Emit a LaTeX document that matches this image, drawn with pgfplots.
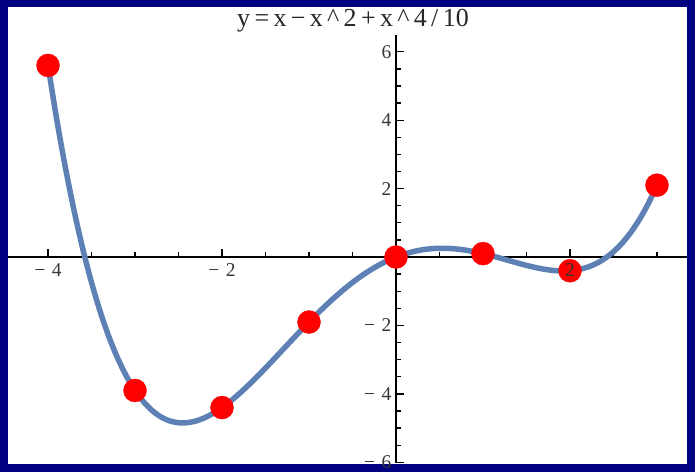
\documentclass[border=0pt]{standalone}
\usepackage{fontspec}
\setmainfont{Liberation Serif}
\usepackage{pgfplots}
\pgfplotsset{compat=1.18}
\definecolor{frameblue}{RGB}{0,0,128}
\definecolor{curveblue}{RGB}{94,129,181}
\definecolor{labelgray}{RGB}{55,55,55}
\begin{document}
\begin{tikzpicture}[x=1pt,y=1pt]
% frame
\fill[frameblue] (0,0) rectangle (695,472);
\fill[white] (8,8) rectangle (687,465);
\begin{axis}[
  at={(8pt,9pt)}, anchor=south west,
  scale only axis, width=679pt, height=428pt,
  xmin=-4.46, xmax=3.345, ymin=-6.02, ymax=6.49,
  axis lines=middle,
  axis line style={line width=1.3pt, black, -},
  xtick={-4,-2,2}, xticklabels={−\,\,4,−\,\,2,{}},
  ytick={-6,-4,-2,2,4,6}, yticklabels={−\,\,6,−\,\,4,−\,\,2,2,4,6},
  minor xtick={-4.5,-4,...,3.0},
  minor ytick={-6,-5.5,...,6.5},
  tick align=inside,
  major tick length=8pt, minor tick length=5pt,
  tick style={line width=1.3pt, black},
  ticklabel style={font=\fontsize{19.5}{22}\selectfont, text=labelgray},
  xticklabel style={yshift=-3pt},
  yticklabel style={xshift=-1pt},
  /pgf/number format/assume math mode=true,
  clip=false,
]
% the curve y = x - x^2 + x^4/10, tabulated at steps of 0.1
\addplot[curveblue, line width=5.5pt, smooth, line join=round, line cap=round] coordinates {
(-4.0,5.6) (-3.9,4.02441) (-3.8,2.61136) (-3.7,1.35161) (-3.6,0.23616)
(-3.5,-0.74375) (-3.4,-1.59664) (-3.3,-2.33079) (-3.2,-2.95424) (-3.1,-3.47479)
(-3.0,-3.9) (-2.9,-4.23719) (-2.8,-4.49344) (-2.7,-4.67559) (-2.6,-4.79024)
(-2.5,-4.84375) (-2.4,-4.84224) (-2.3,-4.79159) (-2.2,-4.69744) (-2.1,-4.56519)
(-2.0,-4.4) (-1.9,-4.20679) (-1.8,-3.99024) (-1.7,-3.75479) (-1.6,-3.50464)
(-1.5,-3.24375) (-1.4,-2.97584) (-1.3,-2.70439) (-1.2,-2.43264) (-1.1,-2.16359)
(-1.0,-1.9) (-0.9,-1.64439) (-0.8,-1.39904) (-0.7,-1.16599) (-0.6,-0.94704)
(-0.5,-0.74375) (-0.4,-0.55744) (-0.3,-0.38919) (-0.2,-0.23984) (-0.1,-0.10999)
(0.0,0.0) (0.1,0.09001) (0.2,0.16016) (0.3,0.21081) (0.4,0.24256)
(0.5,0.25625) (0.6,0.25296) (0.7,0.23401) (0.8,0.20096) (0.9,0.15561)
(1.0,0.1) (1.1,0.03641) (1.2,-0.03264) (1.3,-0.10439) (1.4,-0.17584)
(1.5,-0.24375) (1.6,-0.30464) (1.7,-0.35479) (1.8,-0.39024) (1.9,-0.40679)
(2.0,-0.4) (2.1,-0.36519) (2.2,-0.29744) (2.3,-0.19159) (2.4,-0.04224)
(2.5,0.15625) (2.6,0.40976) (2.7,0.72441) (2.8,1.10656) (2.9,1.56281)
(3.0,2.1)
};
% sampled integer points
\addplot[only marks, mark=*, mark size=11.5pt, mark options={fill=red, draw=red}] coordinates {
(-4,5.6) (-3,-3.9) (-2,-4.4) (-1,-1.9) (0,0) (1,0.1) (2,-0.4) (3,2.1)
};
\coordinate (xtwo) at (axis cs:2,0);
\end{axis}
% tick label at x = 2, set over the marker
\node[below, inner sep=0pt, yshift=-6pt, font=\fontsize{19.5}{22}\selectfont, text=black!80] at (xtwo) {2};
\node[font=\fontsize{26}{30}\selectfont, text=black!85] at (353,451) {y\,=\,x\,−\,x\,\^{}\,2\,+\,x\,\^{}\,4\,/\,10};
\end{tikzpicture}
\end{document}
